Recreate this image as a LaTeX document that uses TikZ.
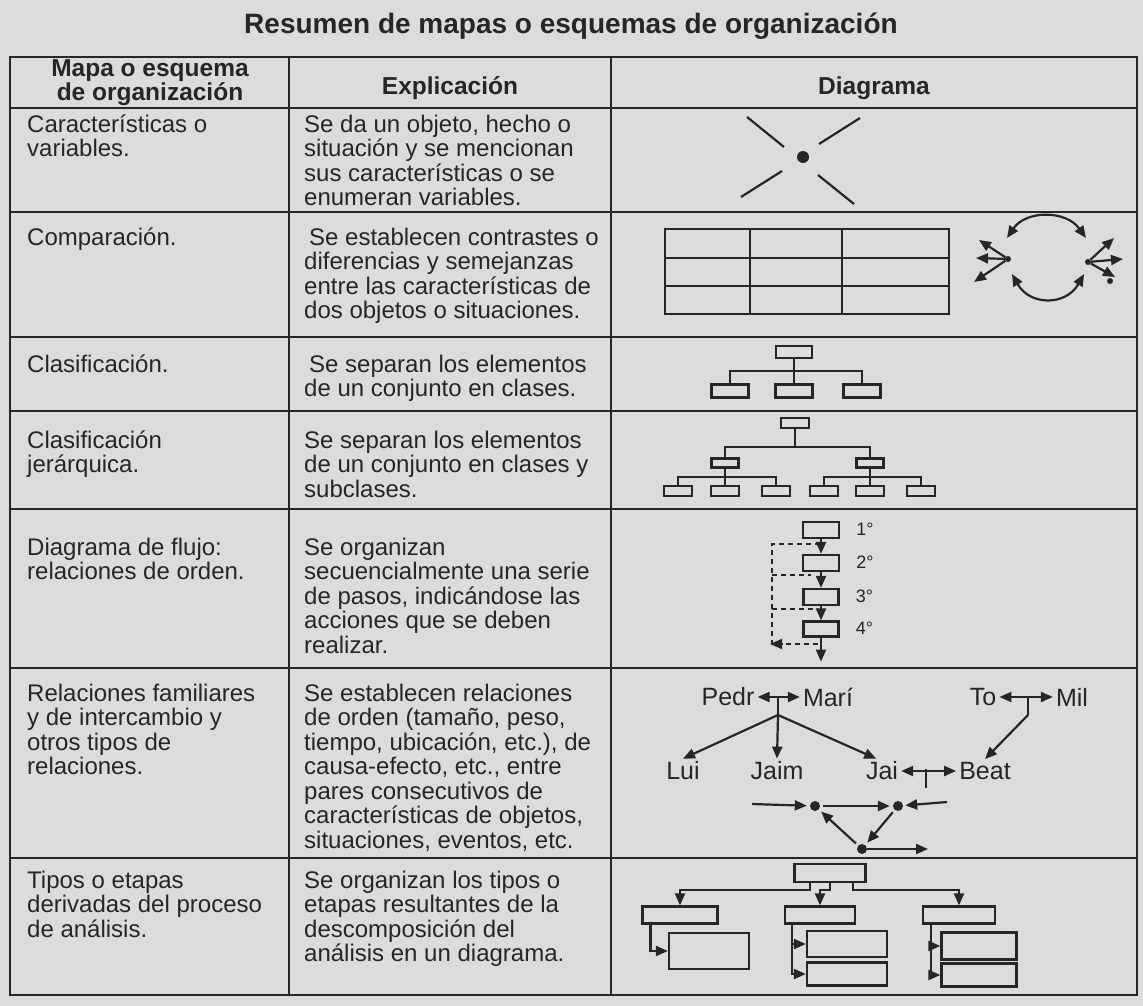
\documentclass[tikz,border=0pt]{standalone}
\usepackage{fontspec}
\setmainfont{Liberation Sans}
\usetikzlibrary{arrows.meta,positioning,calc}
\definecolor{ink}{HTML}{262626}
\definecolor{paper}{HTML}{DCDCDC}

\tikzset{
  rule/.style={draw=ink,line width=1.6pt},
  link/.style={draw=ink,line width=2.2pt},
  dashlink/.style={draw=ink,line width=1.6pt,dash pattern=on 5pt off 4pt},
  titletext/.style={anchor=base,inner sep=0pt,text=ink,font=\fontsize{28}{28}\selectfont\bfseries},
  headtext/.style={anchor=base,align=center,inner sep=0pt,text=ink,font=\fontsize{24.5}{24}\selectfont\bfseries},
  celltext/.style={anchor=base west,align=left,inner sep=0pt,text=ink,font=\fontsize{24}{24.5}\selectfont},
  bx/.style 2 args={draw=ink,line width=2.2pt,inner sep=0pt,minimum width=#1,minimum height=#2},
  dot/.style={circle,fill=ink,inner sep=0pt,minimum size=#1},
  dot/.default=10pt,
  who/.style={inner sep=3pt,text=ink,font=\fontsize{25}{25}\selectfont},
  ordlabel/.style={anchor=west,inner sep=0pt,text=ink,font=\fontsize{18}{18}\selectfont},
  >={Triangle[length=12pt,width=10pt]}
}

\begin{document}
\begin{tikzpicture}[x=1pt,y=-1pt]
\fill[paper] (0,0) rectangle (1143,1006);
\useasboundingbox (0,0) rectangle (1143,1006);

% table
\draw[rule] (10,57) rectangle (1137,995);
\foreach \y in {108,212,337,411,509,668,858}
  \draw[rule] (10,\y) -- (1137,\y);
\foreach \x in {289,611}
  \draw[rule] (\x,57) -- (\x,995);

% multi-line cells sit on the baseline of their last line
\node[titletext] (title) at (571,34) {Resumen de mapas o esquemas de organizaci\'on};
\node[headtext] (hmapa) at (150,101) {Mapa o esquema\\de organizaci\'on};
\node[headtext] (hexpl) at (450,95) {Explicaci\'on};
\node[headtext] (hdiag) at (874,95) {Diagrama};

% first column
\node[celltext] (k1) at (27,156.5) {Caracter\'isticas o\\variables.};
\node[celltext] (k2) at (27,245) {Comparaci\'on.};
\node[celltext] (k3) at (27,372) {Clasificaci\'on.};
\node[celltext] (k4) at (27,472.5) {Clasificaci\'on\\jer\'arquica.};
\node[celltext] (k5) at (27,579.5) {Diagrama de flujo:\\relaciones de orden.};
\node[celltext] (k6) at (27,774.5) {Relaciones familiares\\y de intercambio y\\otros tipos de\\relaciones.};
\node[celltext] (k7) at (27,937) {Tipos o etapas\\derivadas del proceso\\de an\'alisis.};

% second column
\node[celltext] (e1) at (304,205.5) {Se da un objeto, hecho o\\situaci\'on y se mencionan\\sus caracter\'isticas o se\\enumeran variables.};
\node[celltext] (e2) at (304,318.5) {\hspace*{5pt}Se establecen contrastes o\\diferencias y semejanzas\\entre las caracter\'isticas de\\dos objetos o situaciones.};
\node[celltext] (e3) at (304,396.5) {\hspace*{5pt}Se separan los elementos\\de un conjunto en clases.};
\node[celltext] (e4) at (304,497) {Se separan los elementos\\de un conjunto en clases y\\subclases.};
\node[celltext] (e5) at (304,653) {Se organizan\\secuencialmente una serie\\de pasos, indic\'andose las\\acciones que se deben\\realizar.};
\node[celltext] (e6) at (304,848) {Se establecen relaciones\\de orden (tama\~no, peso,\\tiempo, ubicaci\'on, etc.), de\\causa-efecto, etc., entre\\pares consecutivos de\\caracter\'isticas de objetos,\\situaciones, eventos, etc.};
\node[celltext] (e7) at (304,961.5) {Se organizan los tipos o\\etapas resultantes de la\\descomposici\'on del\\an\'alisis en un diagrama.};

% caracteristicas
\node[dot=12pt] (x0) at (803,157) {};
\draw[link] (747,117) -- (784,147);
\draw[link] (819,144) -- (860,118);
\draw[link] (741,197) -- (782,171);
\draw[link] (818,175) -- (854,204);

% comparacion
\draw[rule] (665,229) rectangle (949,314);
\draw[rule] (665,258) -- (949,258);
\draw[rule] (665,286) -- (949,286);
\draw[rule] (750,229) -- (750,314);
\draw[rule] (842,229) -- (842,314);
\node[dot=6pt] (cl) at (1008,259) {};
\node[dot=6pt] (cr) at (1088,262) {};
\node[dot=6pt] (cs) at (1110,281) {};
\draw[link,->] (cl) -- (979,240);
\draw[link,->] (cl) -- (976,258);
\draw[link,->] (cl) -- (974,282);
\draw[link,->] (cr) -- (1114,238);
\draw[link,->] (cr) -- (1123,259);
\draw[link,->] (cr) -- (1115,277);
\draw[link,<->] (1007,238) .. controls (1026,210) and (1066,210) .. (1086,238);
\draw[link,<->] (1012,274) .. controls (1030,306) and (1066,306) .. (1084,274);

% clasificacion
\node[bx={36}{12}] (c0) at (794,352) {};
\node[bx={37}{13}] (c1) at (730,391) {};
\node[bx={37}{13}] (c2) at (794,391) {};
\node[bx={37}{13}] (c3) at (862,391) {};
\coordinate (cj) at (794,371);
\draw[link] (c0.south) -- (cj);
\draw[link] (c1.north) |- (cj) -| (c3.north);
\draw[link] (cj) -- (c2.north);

% clasificacion jerarquica
\node[bx={28}{10}] (h0) at (795,423) {};
\node[bx={27}{9}] (h1) at (725,463) {};
\node[bx={27}{9}] (h2) at (870,463) {};
\node[bx={28}{10}] (h11) at (678,491) {};
\node[bx={28}{10}] (h12) at (725,491) {};
\node[bx={28}{10}] (h13) at (776,491) {};
\node[bx={28}{10}] (h21) at (824,491) {};
\node[bx={28}{10}] (h22) at (870,491) {};
\node[bx={28}{10}] (h23) at (921,491) {};
\coordinate (hj) at (795,447);
\draw[link] (h0.south) -- (hj);
\draw[link] (h1.north) |- (hj) -| (h2.north);
\draw[link] (h1.south) -- ++(0,8.5) coordinate (h1j);
\draw[link] (h11.north) |- (h1j) -| (h13.north);
\draw[link] (h1j) -- (h12.north);
\draw[link] (h2.south) -- ++(0,8.5) coordinate (h2j);
\draw[link] (h21.north) |- (h2j) -| (h23.north);
\draw[link] (h2j) -- (h22.north);

% diagrama de flujo
\node[bx={36}{16}] (f1) at (821,530) {};
\node[bx={36}{16}] (f2) at (821,563) {};
\node[bx={35}{16}] (f3) at (821,597) {};
\node[bx={35}{15}] (f4) at (821,629) {};
\foreach \n/\t in {f1/1,f2/2,f3/3,f4/4}
  \node[ordlabel] at ($(\n.east)+(16,-1)$) {\t°};
\draw[link,->] (f1) -- (f2);
\draw[link,->] (f2) -- (f3);
\draw[link,->] (f3) -- (f4);
\draw[link,->] (f4.south) -- ++(0,24) coordinate (fend);
\coordinate (dtop) at (772,544);
\coordinate (dbot) at (772,644);
\draw[dashlink] (820,544) -- (dtop) -- (dbot);
\draw[dashlink] (772,575) -- (811,575);
\draw[dashlink] (772,609) -- (818,609);
\draw[dashlink,->] (818,644) -- (770,644);

% relaciones familiares
\node[who] (pe) at (728,697) {Pedr};
\node[who] (ma) at (828,697) {Mar\'i};
\node[who] (to) at (983,697) {To};
\node[who] (mi) at (1072,697) {Mil};
\node[who] (lu) at (683,771) {Lui};
\node[who] (jm) at (777,771) {Jaim};
\node[who] (ji) at (882,771) {Jai};
\node[who] (be) at (985,771) {Beat};
\draw[link,<->] (pe) -- (ma);
\draw[link] (778,696) -- (778,715) coordinate (pmj);
\draw[link,->] (pmj) -- (lu.north);
\draw[link,->] (pmj) -- (jm.north);
\draw[link,->] (pmj) -- (ji.115);
\draw[link,<->] (to) -- (mi);
\draw[link] (1028,696) -- (1028,715) coordinate (tmj);
\draw[link,->] (tmj) -- (be.north);
\draw[link,<->] (ji) -- (be);
\draw[link] (926,769) -- (926,788);
\node[dot] (d1) at (815,806) {};
\node[dot] (d2) at (898,806) {};
\node[dot] (d3) at (862,849) {};
\coordinate (s1) at (752,804);
\coordinate (s3) at (947,802);
\coordinate (s6) at (928,849);
\draw[link,->,shorten >=3pt] (s1) -- (d1);
\draw[link,->,shorten <=3pt,shorten >=3pt] (d1) -- (d2);
\draw[link,->,shorten >=2pt] (s3) -- (d2);
\draw[link,->,shorten <=3pt,shorten >=3pt] (d2) -- (d3);
\draw[link,->,shorten <=3pt,shorten >=3pt] (d3) -- (d1);
\draw[link,->] (d3) -- (s6);

% tipos o etapas
\node[bx={71}{18}] (g0) at (830,873) {};
\node[bx={75}{17}] (g1) at (680,915) {};
\node[bx={70}{17}] (g2) at (820,915) {};
\node[bx={72}{17}] (g3) at (959,915) {};
\node[bx={80}{36}] (g11) at (709,951) {};
\node[bx={80}{26}] (g21) at (847,944) {};
\node[bx={80}{23}] (g22) at (847,974) {};
\node[bx={75}{27}] (g31) at (979,946) {};
\node[bx={75}{23}] (g32) at (979,975) {};
\draw[link,->] ($(g0.south)+(-20,0)$) -- ++(0,7) -| (g1.north);
\draw[link,->] (g0.south) -- ++(0,7) -| (g2.north);
\draw[link,->] ($(g0.south)+(23,0)$) -- ++(0,7) -| (g3.north);
\draw[link,->] ($(g1.south west)+(9,0)$) |- (g11.west);
\draw[link,->] ($(g2.south west)+(8,0)$) |- (g21.west);
\draw[link,->] ($(g2.south west)+(8,0)$) |- (g22.west);
\draw[link,->] ($(g3.south west)+(9,0)$) |- (g31.west);
\draw[link,->] ($(g3.south west)+(9,0)$) |- (g32.west);
\end{tikzpicture}
\end{document}
